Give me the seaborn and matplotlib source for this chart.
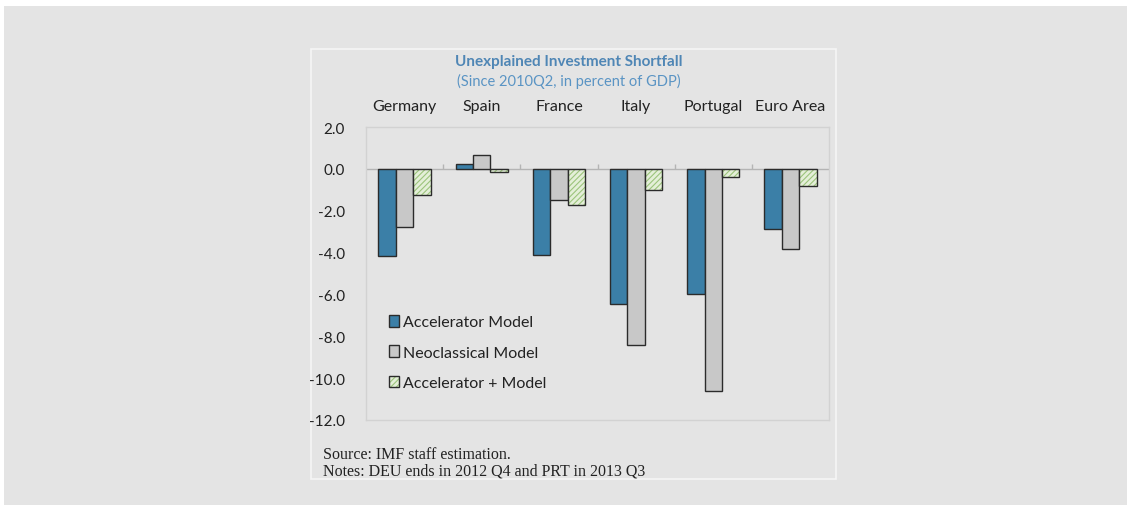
import numpy as np
import pandas as pd
import matplotlib
matplotlib.use("Agg")
import matplotlib.pyplot as plt
import seaborn as sns
from matplotlib.patches import Rectangle

# === DATA
countries = ["Germany", "Spain", "France", "Italy", "Portugal", "Euro Area"]
models = ["Accelerator Model", "Neoclassical Model", "Accelerator + Model"]
accelerator = [-4.17, 0.25, -4.12, -6.47, -6.0, -2.85]
neoclassical = [-2.78, 0.65, -1.5, -8.44, -10.62, -3.84]
accel_plus = [-1.25, -0.15, -1.75, -1.0, -0.38, -0.82]
yticks = [2.0, 0.0, -2.0, -4.0, -6.0, -8.0, -10.0, -12.0]

df = pd.DataFrame({
    "Country": countries * 3,
    "Model": [m for m in models for _ in countries],
    "Value": accelerator + neoclassical + accel_plus,
})

# === STYLE
BG = "#e4e4e4"
palette = {models[0]: "#3b7fa7", models[1]: "#c8c8c8", models[2]: "#e4efd8"}
sns.set_style("white")
plt.rcParams["font.family"] = ["Lato", "DejaVu Sans"]
plt.rcParams["hatch.linewidth"] = 0.8

W, H = 1127, 506
fig = plt.figure(figsize=(W / 100, H / 100), dpi=100, facecolor="white")

# fond gris + cadre du panneau
fig.patches.append(Rectangle((4 / W, 0), 1, 1 - 7 / H, transform=fig.transFigure,
                             facecolor=BG, edgecolor="none", zorder=-3))
fig.patches.append(Rectangle((311 / W, 1 - 480 / H), (836 - 311) / W, (480 - 50) / H,
                             transform=fig.transFigure, facecolor=BG,
                             edgecolor="#f6f6f6", lw=1.2, zorder=-2))

ax = fig.add_axes([366 / W, 1 - 421 / H, (829 - 366) / W, (421 - 128) / H])
ax.set_facecolor(BG)

sns.barplot(data=df, x="Country", y="Value", hue="Model", palette=palette,
            width=0.68, gap=0, edgecolor="#2b2b2b", linewidth=1.0,
            saturation=1, ax=ax, legend=False, zorder=3)

# hachures vertes sur la 3e série
for p in ax.containers[2].patches:
    p.set_hatch("//////")
    p._hatch_color = matplotlib.colors.to_rgba("#9cc47c")

ax.set_ylim(-12, 2)
ax.set_xlim(-0.5, len(countries) - 0.5)
ax.set_yticks(yticks)
ax.set_yticklabels([f"{v:.1f}" for v in yticks], fontsize=11, color="#222222")
ax.xaxis.tick_top()
ax.set_xticks(range(len(countries)))
ax.set_xticklabels(countries, fontsize=11.5, color="#222222")
ax.tick_params(axis="x", length=0, pad=10)
ax.tick_params(axis="y", direction="in", length=4, color="#d2d2d2", pad=15)
ax.set_xlabel("")
ax.set_ylabel("")

for s in ax.spines.values():
    s.set_color("#d2d2d2")
    s.set_linewidth(1.0)

ax.axhline(0, color="#b4b4b4", lw=1.0, zorder=2)
ax.vlines(np.arange(len(countries) - 1) + 0.5, 0, 0.25, color="#b4b4b4", lw=1.0, zorder=2)

leg = ax.legend(handles=[c.patches[0] for c in ax.containers], labels=models,
                loc="upper left", bbox_to_anchor=(389 / W, 1 - 316 / H),
                bbox_transform=fig.transFigure, frameon=False, fontsize=11.5,
                handlelength=0.65, handleheight=0.75, handletextpad=0.2,
                labelspacing=1.0, borderaxespad=0, borderpad=0)
for t in leg.get_texts():
    t.set_color("#222222")

# titres
fig.text(569 / W, 1 - 62 / H, "Unexplained Investment Shortfall", ha="center", va="center",
         fontsize=11, fontweight="bold", color="#4f86b5")
fig.text(569 / W, 1 - 81 / H, "(Since 2010Q2, in percent of GDP)", ha="center", va="center",
         fontsize=10.5, color="#5a94c4")

fig.text(323 / W, 1 - 455 / H, "Source: IMF staff estimation.", ha="left", va="center",
         fontsize=11.5, family="Liberation Serif", color="#222222")
fig.text(323 / W, 1 - 472 / H, "Notes: DEU ends in 2012 Q4 and PRT in 2013 Q3", ha="left",
         va="center", fontsize=11.5, family="Liberation Serif", color="#222222")

fig.savefig("out.png", dpi=100, facecolor="white")
